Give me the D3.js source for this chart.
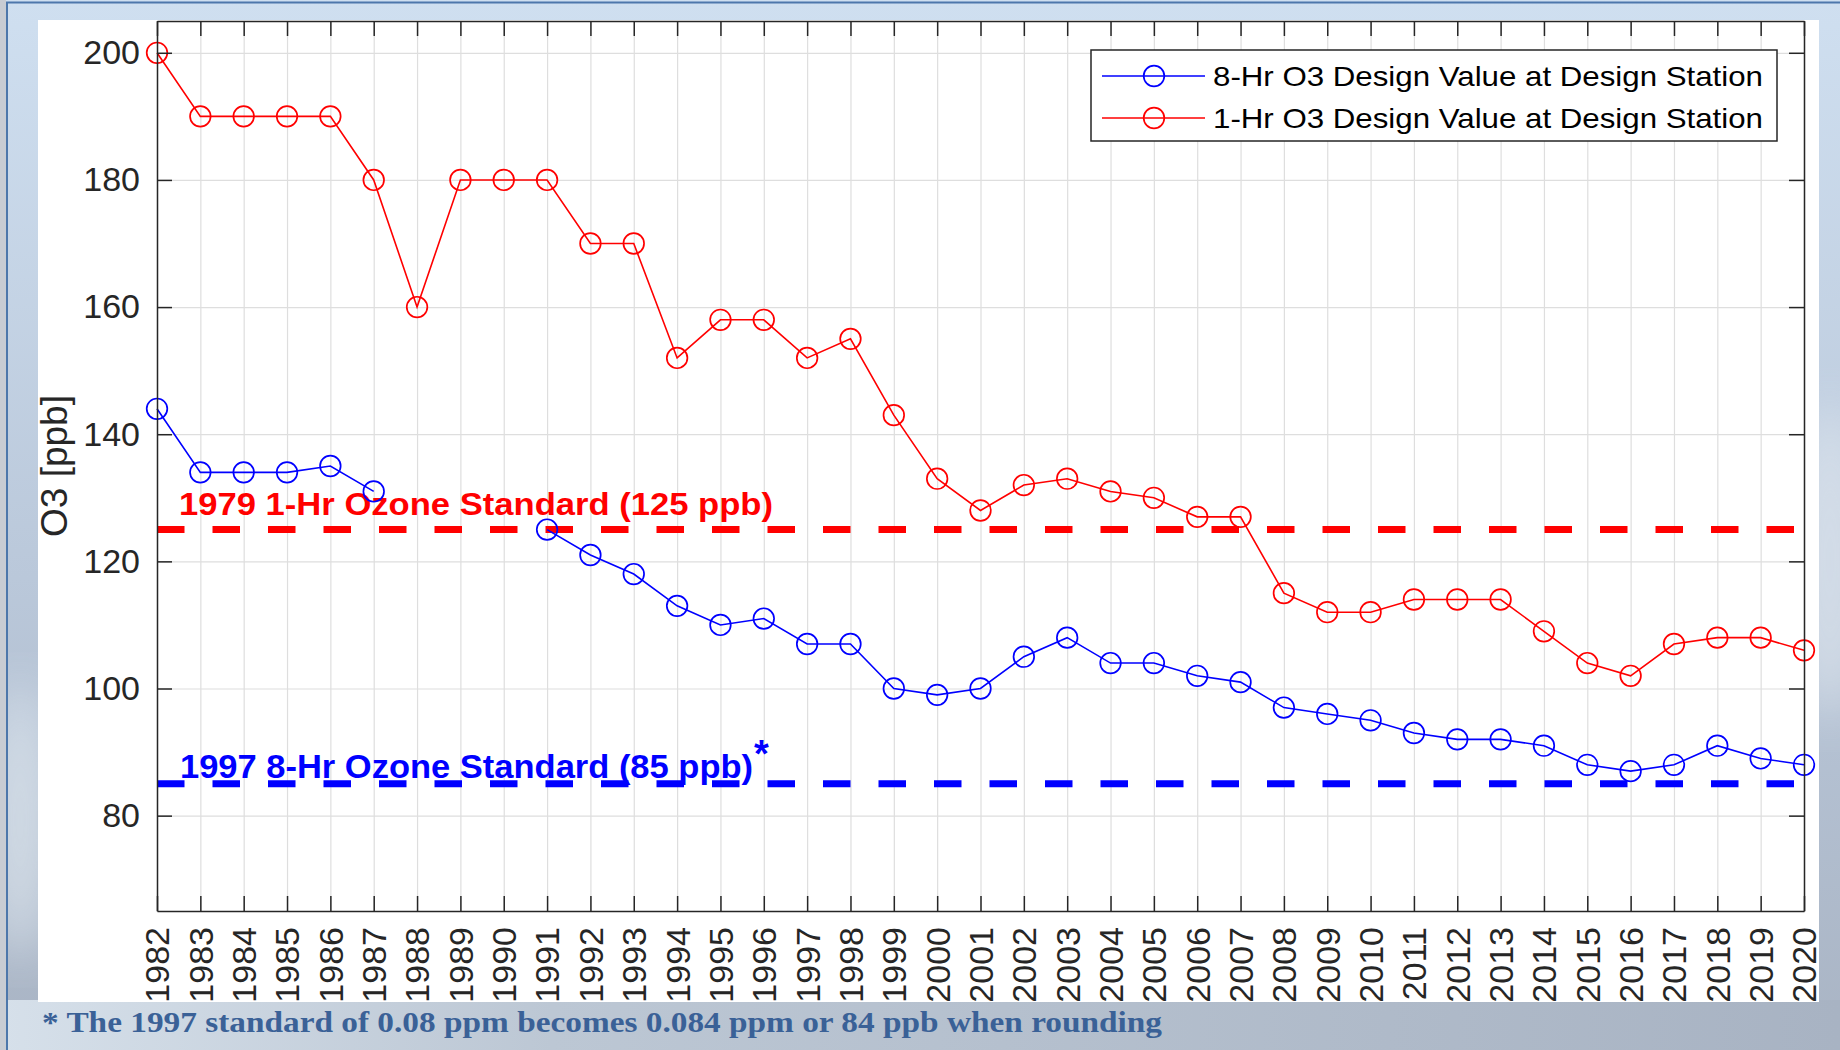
<!DOCTYPE html>
<html>
<head>
<meta charset="utf-8">
<script src="https://cdn.jsdelivr.net/npm/d3@7"></script>
<style>
  html, body { margin: 0; padding: 0; background: #c5ccd6; }
  svg { display: block; }
</style>
</head>
<body>
<div id="chart"></div>
<script>
var years = d3.range(1982, 2021);
var oneHr = [200, 190, 190, 190, 190, 180, 160, 180, 180, 180, 170, 170, 152, 158, 158, 152, 155, 143, 133, 128,
  132, 133, 131, 130, 127, 127, 115, 112, 112, 114, 114, 114, 109, 104, 102, 107, 108, 108, 106];
var eightHr = [144, 134, 134, 134, 135, 131, null, null, null, 125, 121, 118, 113, 110, 111, 107, 107, 100, 99, 100,
  105, 108, 104, 104, 102, 101, 97, 96, 95, 93, 92, 92, 91, 88, 87, 88, 91, 89, 88];
var yTicks = [80, 100, 120, 140, 160, 180, 200];
var seriesNames = ["8-Hr O3 Design Value at Design Station", "1-Hr O3 Design Value at Design Station"];
var standards = [
  {value: 125, label: "1979 1-Hr Ozone Standard (125 ppb)", color: "#ff0000"},
  {value: 85, label: "1997 8-Hr Ozone Standard (85 ppb)", color: "#0000ff"}
];
var footnote = "* The 1997 standard of 0.08 ppm becomes 0.084 ppm or 84 ppb when rounding";

var svgWidth = 1840;
var svgHeight = 1050;
var margin = {top: 21, right: 36, bottom: 139, left: 157};
var width = svgWidth - margin.left - margin.right;
var height = svgHeight - margin.top - margin.bottom;
var axisColor = "#262626";

var svg = d3.select("#chart")
  .append("svg")
  .attr("width", svgWidth)
  .attr("height", svgHeight);

// sky-ish backdrop
var defs = svg.append("defs");
var bg = defs.append("linearGradient").attr("id", "bg")
  .attr("x1", 0).attr("y1", 0).attr("x2", 0).attr("y2", 1);
bg.append("stop").attr("offset", "0%").attr("stop-color", "#cfdff0");
bg.append("stop").attr("offset", "55%").attr("stop-color", "#bac8da");
bg.append("stop").attr("offset", "100%").attr("stop-color", "#a9b4c4");
var bottomGrad = defs.append("linearGradient").attr("id", "bottomGrad")
  .attr("x1", 0).attr("y1", 0).attr("x2", 1).attr("y2", 0);
bottomGrad.append("stop").attr("offset", "0%").attr("stop-color", "#d6e0ea");
bottomGrad.append("stop").attr("offset", "30%").attr("stop-color", "#bcc7d4");
bottomGrad.append("stop").attr("offset", "100%").attr("stop-color", "#a8b3c3");
defs.append("filter").attr("id", "blur")
  .append("feGaussianBlur").attr("stdDeviation", 25);

svg.append("rect").attr("width", svgWidth).attr("height", svgHeight).attr("fill", "url(#bg)");
svg.append("rect").attr("y", 1000).attr("width", svgWidth).attr("height", 50).attr("fill", "url(#bottomGrad)");
svg.append("ellipse").attr("cx", 1830).attr("cy", 560).attr("rx", 40).attr("ry", 160)
  .attr("fill", "#dfe6ee").attr("opacity", 0.7).attr("filter", "url(#blur)");
svg.append("ellipse").attr("cx", 20).attr("cy", 820).attr("rx", 30).attr("ry", 140)
  .attr("fill", "#e4ecf3").attr("opacity", 0.7).attr("filter", "url(#blur)");
svg.append("rect").attr("width", 6).attr("height", svgHeight).attr("fill", "#c8ccd3");
svg.append("line").attr("x1", 7).attr("x2", 7).attr("y1", 2).attr("y2", svgHeight)
  .attr("stroke", "#4d77ab").attr("stroke-width", 2);
svg.append("line").attr("x1", 6).attr("x2", svgWidth).attr("y1", 2.5).attr("y2", 2.5)
  .attr("stroke", "#4d77ab").attr("stroke-width", 2);

// white figure panel
svg.append("rect").attr("x", 38).attr("y", 20).attr("width", 1781).attr("height", 982).attr("fill", "#ffffff");

var chart = svg.append("g")
  .attr("transform", `translate(${margin.left}, ${margin.top})`);

var xScale = d3.scaleLinear().domain([1982, 2020]).range([0, width]);
var yScale = d3.scaleLinear().domain([65, 205]).range([height, 0]);

// grid
var grid = chart.append("g");
grid.append("g")
  .call(d3.axisBottom(xScale).tickValues(years).tickSize(height).tickFormat(""));
grid.append("g")
  .call(d3.axisRight(yScale).tickValues(yTicks).tickSize(width).tickFormat(""));
grid.selectAll(".domain").remove();
grid.selectAll("line").attr("stroke", "#dedede").attr("stroke-width", 1.2);

// standard lines and their labels
chart.selectAll(".std")
  .data(standards)
  .enter()
  .append("line")
  .attr("x1", 0)
  .attr("x2", width)
  .attr("y1", d => yScale(d.value))
  .attr("y2", d => yScale(d.value))
  .attr("stroke", d => d.color)
  .attr("stroke-width", 7)
  .attr("stroke-dasharray", "27.5,28");

chart.append("text")
  .attr("x", 22)
  .attr("y", yScale(standards[0].value) - 15)
  .attr("font-family", "Liberation Sans, Arial, sans-serif")
  .attr("font-weight", "bold")
  .attr("font-size", 32)
  .attr("textLength", 594)
  .attr("lengthAdjust", "spacingAndGlyphs")
  .attr("fill", standards[0].color)
  .text(standards[0].label);

chart.append("text")
  .attr("x", 23)
  .attr("y", yScale(standards[1].value) - 6)
  .attr("font-family", "Liberation Sans, Arial, sans-serif")
  .attr("font-weight", "bold")
  .attr("font-size", 34)
  .attr("textLength", 573)
  .attr("lengthAdjust", "spacingAndGlyphs")
  .attr("fill", standards[1].color)
  .text(standards[1].label);

chart.append("text")
  .attr("x", 597)
  .attr("y", yScale(standards[1].value) - 17)
  .attr("font-family", "Liberation Sans, Arial, sans-serif")
  .attr("font-weight", "bold")
  .attr("font-size", 38)
  .attr("fill", standards[1].color)
  .text("*");

// data series
var series = [
  {name: seriesNames[0], values: eightHr, color: "#0000ff"},
  {name: seriesNames[1], values: oneHr, color: "#ff0000"}
];

var line = d3.line()
  .defined(d => d.v !== null)
  .x(d => xScale(d.year))
  .y(d => yScale(d.v));

series.forEach(function(s) {
  var pts = years.map((y, i) => ({year: y, v: s.values[i]}));
  chart.append("path")
    .datum(pts)
    .attr("d", line)
    .attr("fill", "none")
    .attr("stroke", s.color)
    .attr("stroke-width", 1.6);
  chart.append("g")
    .selectAll("circle")
    .data(pts.filter(d => d.v !== null))
    .enter()
    .append("circle")
    .attr("cx", d => xScale(d.year))
    .attr("cy", d => yScale(d.v))
    .attr("r", 10.3)
    .attr("fill", "none")
    .attr("stroke", s.color)
    .attr("stroke-width", 1.7);
});

// axes (MATLAB style: box with inward ticks)
var tickLen = 15;
var axes = chart.append("g");
var bottomAxis = axes.append("g")
  .attr("transform", `translate(0, ${height})`)
  .call(d3.axisBottom(xScale).tickValues(years).tickFormat(d3.format("d")).tickSizeInner(-tickLen).tickSizeOuter(0));
bottomAxis.selectAll("text")
  .attr("transform", "rotate(-90)")
  .attr("text-anchor", "end")
  .attr("x", -16)
  .attr("y", 0)
  .attr("dy", "0.35em");

axes.append("g")
  .call(d3.axisLeft(yScale).tickValues(yTicks).tickSizeInner(-tickLen).tickSizeOuter(0).tickPadding(17));
axes.append("g")
  .call(d3.axisTop(xScale).tickValues(years).tickFormat("").tickSizeInner(-tickLen).tickSizeOuter(0));
axes.append("g")
  .attr("transform", `translate(${width}, 0)`)
  .call(d3.axisRight(yScale).tickValues(yTicks).tickFormat("").tickSizeInner(-tickLen).tickSizeOuter(0));

axes.selectAll(".domain, .tick line").attr("stroke", axisColor).attr("stroke-width", 1.5);
axes.selectAll(".tick text")
  .attr("fill", axisColor)
  .attr("font-family", "Liberation Sans, Arial, sans-serif")
  .attr("font-size", 34);

// y label
svg.append("text")
  .attr("transform", "translate(67, 466) rotate(-90)")
  .attr("text-anchor", "middle")
  .attr("font-family", "Liberation Sans, Arial, sans-serif")
  .attr("font-size", 37)
  .attr("fill", axisColor)
  .text("O3 [ppb]");

// legend
var legend = svg.append("g");
legend.append("rect")
  .attr("x", 1091).attr("y", 50).attr("width", 686).attr("height", 91)
  .attr("fill", "#ffffff").attr("stroke", axisColor).attr("stroke-width", 1.5);
var rows = legend.selectAll(".row")
  .data(series)
  .enter()
  .append("g")
  .attr("transform", (d, i) => `translate(0, ${76 + i * 42})`);
rows.append("line")
  .attr("x1", 1102).attr("x2", 1205)
  .attr("stroke", d => d.color).attr("stroke-width", 1.6);
rows.append("circle")
  .attr("cx", 1154).attr("r", 10.3)
  .attr("fill", "none").attr("stroke", d => d.color).attr("stroke-width", 1.7);
rows.append("text")
  .attr("x", 1213)
  .attr("dy", "0.36em")
  .attr("font-family", "Liberation Sans, Arial, sans-serif")
  .attr("font-size", 28)
  .attr("textLength", 550)
  .attr("lengthAdjust", "spacingAndGlyphs")
  .attr("fill", "#000000")
  .text(d => d.name);

// footnote
svg.append("text")
  .attr("x", 42)
  .attr("y", 1032)
  .attr("font-family", "Liberation Serif, DejaVu Serif, serif")
  .attr("font-weight", "bold")
  .attr("font-size", 30)
  .attr("textLength", 1120)
  .attr("lengthAdjust", "spacingAndGlyphs")
  .attr("fill", "#3a6197")
  .text(footnote);
</script>
</body>
</html>
